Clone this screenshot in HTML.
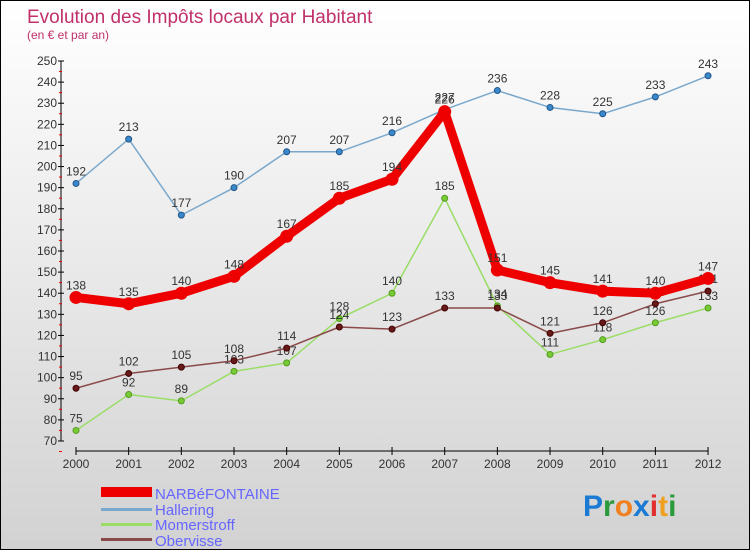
<!DOCTYPE html>
<html><head><meta charset="utf-8"><style>
body{margin:0}
#c{width:748px;height:548px;border:1px solid #000;background:linear-gradient(#fff,#d2d2d2);position:relative;font-family:"Liberation Sans",sans-serif;overflow:hidden}
</style></head><body>
<div id="c">
<svg id="s" width="748" height="548" style="position:absolute;left:0;top:0">
<text x="26" y="22" font-size="19" fill="#c0306a">Evolution des Impôts locaux par Habitant</text>
<text x="26" y="38" font-size="12" fill="#c0306a">(en € et par an)</text>
<g id="axes"></g><g id="series"></g>
<g>
<rect x="100" y="486" width="51" height="10" fill="#e00"/>
<text x="154" y="498" font-size="15" fill="#6666ff">NARBéFONTAINE</text>
<rect x="100" y="507" width="51" height="3" fill="#7aa8cc"/>
<text x="154" y="514" font-size="15" fill="#6666ff">Hallering</text>
<rect x="100" y="522" width="51" height="3" fill="#99dd66"/>
<text x="154" y="529" font-size="15" fill="#6666ff">Momerstroff</text>
<rect x="100" y="537" width="51" height="3" fill="#8a4a4a"/>
<text x="154" y="545" font-size="15" fill="#6666ff">Obervisse</text>
</g>
<text x="582" y="515" font-size="30" font-weight="bold"><tspan fill="#1a7ad4">P</tspan><tspan fill="#2a9a3a">r</tspan><tspan fill="#f08020">o</tspan><tspan fill="#1a7ad4">x</tspan><tspan fill="#e03030">i</tspan><tspan fill="#f0a020">t</tspan><tspan fill="#2a9a3a">i</tspan></text>
</svg>
</div>
<script>
const years=["2000","2001","2002","2003","2004","2005","2006","2007","2008","2009","2010","2011","2012"];
const yTicks=[70,80,90,100,110,120,130,140,150,160,170,180,190,200,210,220,230,240,250];
const narbefontaine=[138,135,140,148,167,185,194,226,151,145,141,140,147];
const hallering=[192,213,177,190,207,207,216,227,236,228,225,233,243];
const momerstroff=[75,92,89,103,107,128,140,185,134,111,118,126,133];
const obervisse=[95,102,105,108,114,124,123,133,133,121,126,135,141];
const NS="http://www.w3.org/2000/svg";
const X=i=>75+i*52.67, Y=v=>440-(v-70)*380/180;
function mk(t,a,p){const e=document.createElementNS(NS,t);for(const k in a)e.setAttribute(k,a[k]);p.appendChild(e);return e;}
const ax=document.getElementById('axes'), sg=document.getElementById('series');
let l=mk('line',{x1:60,y1:Y(250),x2:60,y2:Y(70),stroke:'#000'},ax);

yTicks.forEach(v=>{mk('line',{x1:57,x2:63,y1:Y(v),y2:Y(v),stroke:'#000'},ax);
mk('line',{x1:58,x2:61,y1:Y(v)+10.5,y2:Y(v)+10.5,stroke:'#e00'},ax);
const t=mk('text',{x:56,y:Y(v)+4,'font-size':12,'text-anchor':'end',fill:'#333'},ax);t.textContent=v;
});
l=mk('line',{x1:X(0),y1:450,x2:X(12),y2:450,stroke:'#000'},ax);

years.forEach((y,i)=>{mk('line',{x1:X(i),x2:X(i),y1:446,y2:454,stroke:'#000'},ax);
const t=mk('text',{x:X(i),y:467,'font-size':12,'text-anchor':'middle',fill:'#333'},ax);t.textContent=y;
});
function series(d,name,col,w,r,fill,stroke){const g=mk('g',{},sg);

mk('polyline',{points:d.map((v,i)=>X(i)+','+Y(v)).join(' '),fill:'none',stroke:col,'stroke-width':w,'stroke-linejoin':'round'},g);
d.forEach((v,i)=>{const c=mk('circle',{cx:X(i),cy:Y(v),r:r,fill:fill,stroke:stroke},g);

const t=mk('text',{x:X(i),y:Y(v)-8,'font-size':12,'text-anchor':'middle',fill:'#333'},g);t.textContent=v;
});}
series(momerstroff,'momerstroff','#99dd66',1.5,3,'#77cc33','#559922');
series(obervisse,'obervisse','#8a4a4a',1.5,3,'#661a1a','#440000');
series(hallering,'hallering','#7aa8cc',1.5,3,'#3a88cc','#225588');
series(narbefontaine,'narbefontaine','#e00',9,6,'#e00','#e00');
</script>
</body></html>
